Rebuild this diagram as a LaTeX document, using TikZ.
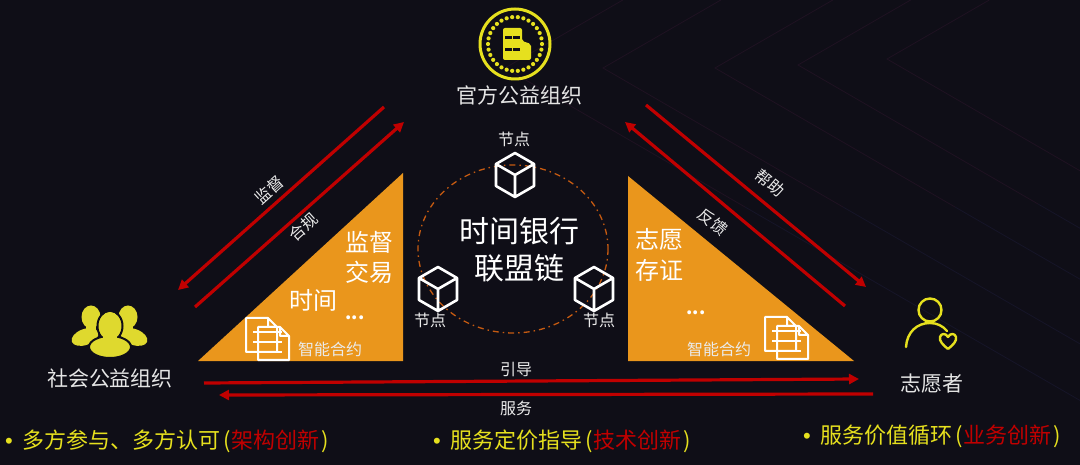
\documentclass[tikz,border=0pt]{standalone}
\usepackage{fontspec}
\setmainfont{Noto Sans CJK SC}
\newfontfamily\latinfont{Liberation Sans}
\usetikzlibrary{arrows.meta}
\definecolor{bgdark}{HTML}{0F0E17}
\definecolor{tryellow}{HTML}{EA961C}
\definecolor{iconyellow}{HTML}{E6E01E}
\definecolor{peopleyellow}{HTML}{DFD92E}
\definecolor{arrowred}{HTML}{C00000}
\definecolor{ringorange}{HTML}{C55A11}
\definecolor{stripeup}{HTML}{1F1222}
\definecolor{stripedown}{HTML}{161528}
\newcommand{\gainline}[2]{\makebox[17pt][l]{\latinfont •}#1\hspace{3pt}(\hspace{1pt}\textcolor{arrowred}{#2}\hspace{2pt})}
\begin{document}
\begin{tikzpicture}[
    x=1pt, y=-1pt,
    every node/.style={inner sep=0pt, text=white},
    actor/.style={font=\fontsize{21}{24}\selectfont, text=white!90!black},
    small label/.style={font=\fontsize{16}{18}\selectfont, text=white!92!black},
    big label/.style={font=\fontsize{24}{28}\selectfont},
    gain/.style={anchor=west, font=\fontsize{22}{26}\selectfont, text=iconyellow},
    flow/.style={draw=arrowred, line width=3.2pt},
    flow tip/.style={flow, -{Triangle[length=10pt,width=10pt]}},
    stripe/.style={line width=0.8pt},
    cube/.pic={
      \draw[white, line width=2.6pt, line join=round]
        (0,-22) -- (19,-11) -- (19,11) -- (0,22) -- (-19,11) -- (-19,-11) -- cycle
        (-19,-11) -- (0,0) -- (19,-11) (0,0) -- (0,22);
    },
    docs/.pic={
      \draw[white, line width=2pt, line join=round]
        (0,0) -- (22,0) -- (31,9) -- (31,34) -- (0,34) -- cycle
        (22,0) -- (22,9) -- (31,9);
      \draw[white, line width=2pt, line join=round]
        (12,9) -- (34,9) -- (43,18) -- (43,42) -- (12,42) -- cycle
        (34,9) -- (34,18) -- (43,18);
      \foreach \ly in {14,24,34}
        \draw[white, line width=1.6pt] (7,\ly) -- (36,\ly);
    }
  ]
  \useasboundingbox (0,0) rectangle (1080,465);
  \fill[bgdark] (0,0) rectangle (1080,465);

  % Background stripes
  \foreach \vx/\vy in {505/68, 603/68, 715/68, 798/65, 887/59} {
    \draw[stripe, stripeup] (\vx+\vy/0.577,0) -- (\vx,\vy) -- (\vx+240,\vy+139);
    \draw[stripe, stripedown] (\vx+240,\vy+139) -- (\vx+640,\vy+370);
  }

  % Triangles
  \fill[tryellow] (198,361) -- (403,361) -- (403,173) -- cycle;
  \fill[tryellow] (628,176) -- (628,361) -- (854,361) -- cycle;

  % Chain ring
  \draw[ringorange, line width=1.3pt, dash pattern=on 6pt off 4pt on 1.5pt off 4pt]
    (513,249) ellipse [x radius=95, y radius=84];
  \node[font=\fontsize{30}{34}\selectfont] (chain a) at (519,231) {时间银行};
  \node[font=\fontsize{30}{34}\selectfont] (chain b) at (519,268) {联盟链};

  % Chain nodes
  \pic at (515,175) {cube};
  \pic at (438,289) {cube};
  \pic at (594,289) {cube};
  \node[small label] (peer top) at (514,139) {节点};
  \node[small label] (peer left) at (430,320) {节点};
  \node[small label] (peer right) at (599,320) {节点};

  % Official organisation
  \draw[iconyellow, line width=3pt] (515,44) circle (35);
  \foreach \a in {0,12,...,348}
    \fill[iconyellow] (515,44) ++(\a:27) circle (2.1);
  \fill[iconyellow, rounded corners=2pt]
    (503,28) -- (522,28) -- (522,41) -- (531,44) -- (531,60) -- (503,60) -- cycle;
  \foreach \wx in {505,513}
    \foreach \wy in {36,48}
      \fill[bgdark] (\wx,\wy) rectangle +(6.5,2.6);
  \node[actor] (official) at (519,95) {官方公益组织};

  % Social organisation
  \fill[peopleyellow] (91,317) ellipse [x radius=9.5, y radius=11.5];
  \fill[peopleyellow] (128,317) ellipse [x radius=9.5, y radius=11.5];
  \fill[peopleyellow] (86,322) rectangle (96,332);
  \fill[peopleyellow] (123,322) rectangle (133,332);
  \fill[peopleyellow, rotate around={20:(85,337)}] (85,337) ellipse [x radius=14, y radius=8];
  \fill[peopleyellow, rotate around={-20:(134,337)}] (134,337) ellipse [x radius=14, y radius=8];
  \fill[peopleyellow, draw=bgdark, line width=2pt] (110,326) ellipse [x radius=12.5, y radius=15];
  \fill[peopleyellow, draw=bgdark, line width=2pt] (110,347) ellipse [x radius=21, y radius=11];
  \fill[peopleyellow] (110,326) ellipse [x radius=11, y radius=14];
  \fill[peopleyellow] (103,336) rectangle (117,344);
  \node[actor] (social) at (110,378) {社会公益组织};

  % Volunteer
  \draw[iconyellow, line width=2.4pt] (930,310) circle (11.5);
  \draw[iconyellow, line width=2.4pt, line cap=round]
    (906,347) .. controls (907,332) and (917,323) .. (930,323)
    .. controls (937,323) and (943,326) .. (947,331);
  \draw[iconyellow, line width=2.4pt, line join=round]
    (948,349) .. controls (943,345) and (939,341) .. (940,337)
    .. controls (941,333) and (946,333) .. (948,337)
    .. controls (950,333) and (955,333) .. (956,337)
    .. controls (957,341) and (953,345) .. (948,349);
  \node[actor] (volunteer) at (932,384) {志愿者};

  % Contract pages
  \pic at (246,318) {docs};
  \pic at (765,317) {docs};
  \node[small label] (contract left) at (330,349) {智能合约};
  \node[small label] (contract right) at (719,349) {智能合约};

  % Triangle texts
  \node[big label] (supervise) at (369,242) {监督};
  \node[big label] (trade) at (369,272) {交易};
  \node[big label] (hours) at (313,300) {时间};
  \node[big label] (wish) at (659,239) {志愿};
  \node[big label] (proof) at (659,270) {存证};
  \node[font=\bfseries\fontsize{18}{20}\selectfont] (more left) at (355,318) {...};
  \node[font=\bfseries\fontsize{18}{20}\selectfont] (more right) at (696,313) {...};

  % Connector ends
  \coordinate (a1) at (384,107);
  \coordinate (a2) at (178,290);
  \coordinate (b1) at (195,307);
  \coordinate (b2) at (404,122);
  \coordinate (c1) at (646,105);
  \coordinate (c2) at (866,287);
  \coordinate (d1) at (845,306);
  \coordinate (d2) at (625,122);
  \coordinate (e1) at (204,383);
  \coordinate (e2) at (859,379);
  \coordinate (f1) at (873,394);
  \coordinate (f2) at (219,395);

  % Connections
  \foreach \from/\to in {a1/a2, b1/b2, c1/c2, d1/d2, e1/e2, f1/f2}
    \draw[flow tip] (\from) -- (\to);

  % Connection labels
  \node[small label, rotate=42] (watch) at (269,190) {监督};
  \node[small label, rotate=42] (comply) at (303,227) {合规};
  \node[small label, rotate=-40] (help) at (770,183) {帮助};
  \node[small label, rotate=-40] (feedback) at (713,222) {反馈};
  \node[small label] (guide) at (516,369) {引导};
  \node[small label] (serve) at (516,408) {服务};

  % Bottom lines
  \node[gain] (gain a) at (5,441) {\gainline{多方参与、多方认可}{架构创新}};
  \node[gain] (gain b) at (433,441) {\gainline{服务定价指导}{技术创新}};
  \node[gain] (gain c) at (803,436) {\gainline{服务价值循环}{业务创新}};

\end{tikzpicture}
\end{document}
